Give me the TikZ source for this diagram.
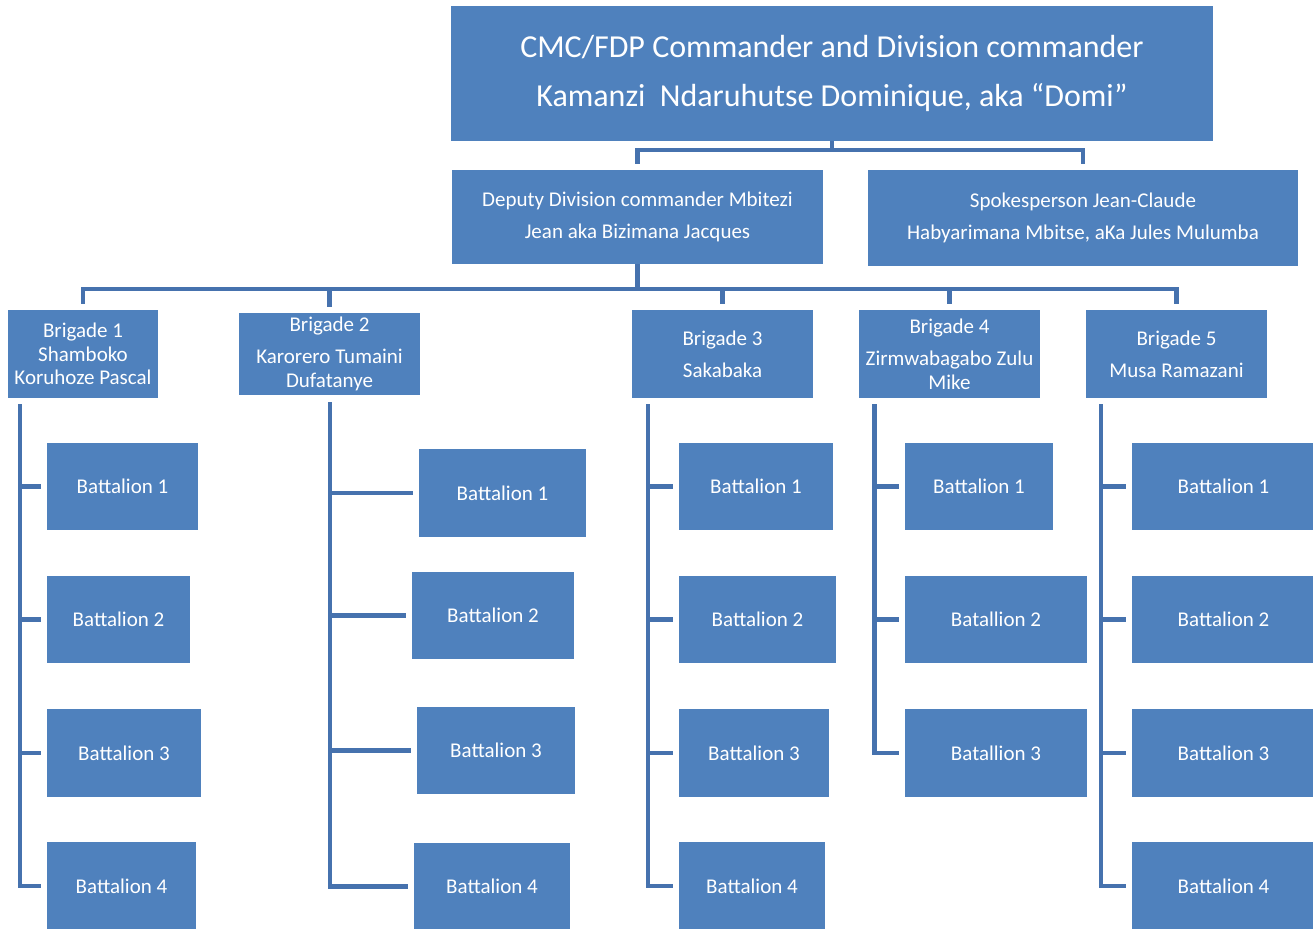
\documentclass[tikz,border=0pt]{standalone}
\usepackage{fontspec}
\setmainfont{Carlito}
\usetikzlibrary{calc}
\definecolor{boxblue}{HTML}{4F81BD}
\definecolor{lineblue}{HTML}{4672AE}
\begin{document}
\begin{tikzpicture}[x=1pt,y=-1pt,
  box/.style={rectangle,fill=boxblue,text=white,inner sep=0pt,align=center,font=\fontsize{21}{32}\selectfont},
  bat/.style={box,minimum height=87.5pt,font=\fontsize{21}{24}\selectfont},
  conn/.style={draw=lineblue,line width=4.5pt}]
\useasboundingbox (0,0) rectangle (1313,928);
\clip (0,0) rectangle (1313,928);
% top level
\node[box,minimum width=762pt,minimum height=135pt,font=\fontsize{32}{49}\selectfont] (top) at (832,73.5)
  {CMC/FDP Commander and Division commander\\Kamanzi\ \ Ndaruhutse Dominique, aka “Domi”};
\node[box,minimum width=371pt,minimum height=94pt] (dep) at (637.5,217)
  {Deputy Division commander Mbitezi\\Jean aka Bizimana Jacques};
\node[box,minimum width=430pt,minimum height=96pt] (spk) at (1083,218)
  {Spokesperson Jean-Claude\\Habyarimana Mbitse, aKa Jules Mulumba};
% brigades
\node[box,minimum width=150pt,minimum height=88pt,font=\fontsize{21}{23.5}\selectfont] (b1) at (83,354)
  {Brigade 1\\Shamboko\\Koruhoze Pascal};
\node[box,minimum width=181pt,minimum height=82pt,font=\fontsize{21}{24}\selectfont] (b2) at (329.5,354)
  {Brigade 2\\[8pt]Karorero Tumaini\\Dufatanye};
\node[box,minimum width=181pt,minimum height=88pt] (b3) at (722.5,354)
  {Brigade 3\\Sakabaka};
\node[box,minimum width=181pt,minimum height=88pt,font=\fontsize{21}{24}\selectfont] (b4) at (949.5,354)
  {Brigade 4\\[8pt]Zirmwabagabo Zulu\\Mike};
\node[box,minimum width=181pt,minimum height=88pt] (b5) at (1176.5,354)
  {Brigade 5\\Musa Ramazani};
% battalions column 1
\node[bat,minimum width=151pt] (a11) at (122.5,486.5) {Battalion 1};
\node[bat,minimum width=143pt] (a12) at (118.5,619.5) {Battalion 2};
\node[bat,minimum width=154pt] (a13) at (124,753) {Battalion 3};
\node[bat,minimum width=149pt] (a14) at (121.5,886) {Battalion 4};
% column 2
\node[bat,minimum width=167pt] (a21) at (502.5,493) {Battalion 1};
\node[bat,minimum width=162pt] (a22) at (493,615.5) {Battalion 2};
\node[bat,minimum width=158pt] (a23) at (496,750.5) {Battalion 3};
\node[bat,minimum width=156pt] (a24) at (492,886.5) {Battalion 4};
% column 3
\node[bat,minimum width=154pt] (a31) at (756,486.5) {Battalion 1};
\node[bat,minimum width=157pt] (a32) at (757.5,619.5) {Battalion 2};
\node[bat,minimum width=150pt] (a33) at (754,753) {Battalion 3};
\node[bat,minimum width=146pt] (a34) at (752,886) {Battalion 4};
% column 4
\node[bat,minimum width=148pt] (a41) at (979,486.5) {Battalion 1};
\node[bat,minimum width=182pt] (a42) at (996,619.5) {Batallion 2};
\node[bat,minimum width=182pt] (a43) at (996,753) {Batallion 3};
% column 5
\node[bat,minimum width=183pt] (a51) at (1223.5,486.5) {Battalion 1};
\node[bat,minimum width=183pt] (a52) at (1223.5,619.5) {Battalion 2};
\node[bat,minimum width=183pt] (a53) at (1223.5,753) {Battalion 3};
\node[bat,minimum width=183pt] (a54) at (1223.5,886) {Battalion 4};
% connectors level 1
\coordinate (j1) at (832,150);
\draw[conn] (top.south) -- (j1);
\draw[conn] ([yshift=6pt]dep.north) |- (j1) -| ([yshift=6pt]spk.north);
% connectors level 2
\coordinate (j2) at (637.5,289);
\draw[conn] (dep.south) -- (j2);
\draw[conn] ([yshift=6pt]b1.north) |- (j2) -| ([yshift=6pt]b5.north);
\foreach \b in {b2,b3,b4} \draw[conn] ([yshift=6pt]\b.north) -- (\b.north |- j2);
% battalion columns
\coordinate (v1) at (20,404);
\coordinate (v2) at (330,402);
\coordinate (v3) at (648,404);
\coordinate (v4) at (874.5,404);
\coordinate (v5) at (1101,404);
\foreach \c in {1,2,3,5}
  \foreach \n in {1,...,4}
    \draw[conn] (v\c) |- ([xshift=-6pt]a\c\n.west);
\foreach \n in {1,...,3}
  \draw[conn] (v4) |- ([xshift=-6pt]a4\n.west);
\end{tikzpicture}
\end{document}
